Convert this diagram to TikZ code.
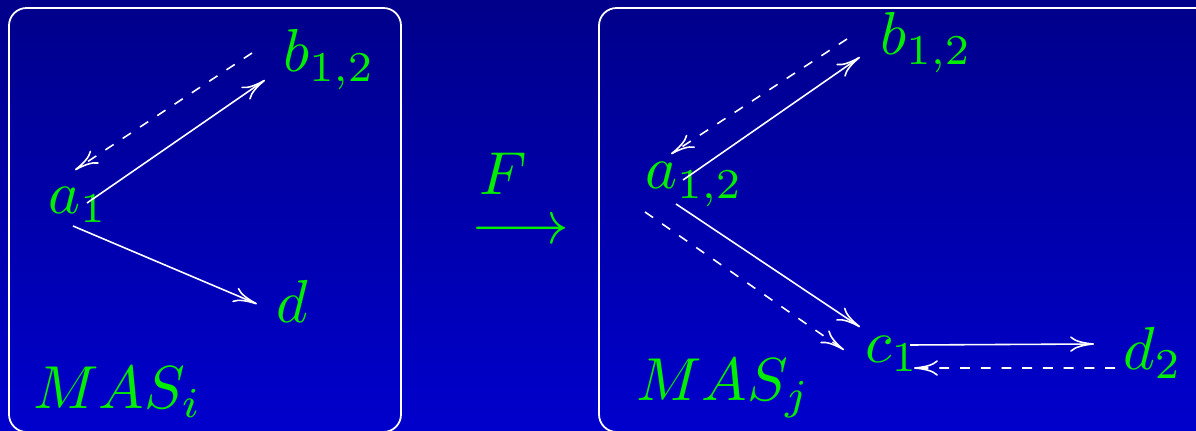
\documentclass[tikz,border=0pt]{standalone}
\usepackage{tikz}
\usetikzlibrary{arrows.meta, positioning}
\definecolor{bg-top}{HTML}{00008A}
\definecolor{bg-bottom}{HTML}{0000CC}
\definecolor{agent-color}{HTML}{00EE00}
\definecolor{link-color}{HTML}{FFFFFF}
\tikzset{
  agent/.style={text=agent-color, font=\normalsize, inner sep=0pt, anchor=base west,
    scale=1.728, transform shape},
  mas-frame/.style={draw=link-color, line width=0.5pt, rounded corners=5pt},
  link/.style={-{To[length=6.8pt, width=4.4pt]}, line width=0.45pt, draw=link-color},
  reply/.style={link, dash pattern=on 2.8pt off 3.1pt}
}

\begin{document}
\begin{tikzpicture}
  \clip (0,0) rectangle (11.96,4.30);
  \shade[top color=bg-top, bottom color=bg-bottom] (0,0) rectangle (11.96,4.30);
  \draw[mas-frame] (0.09,-0.02) rectangle (4.01,4.22);
  \draw[mas-frame] (5.99,-0.02) rectangle (12.20,4.22);

  % source system
  \node[agent] (a1)   at (0.47, 2.17) {$a_1$};
  \node[agent] (b1)   at (2.82, 3.58) {$b_{1,2}$};
  \node[agent] (d1)   at (2.75, 1.08) {$d$};
  \node[agent] (masi) at (0.32, 0.22) {$MAS_i$};

  % target system
  \node[agent] (a2)   at (6.44, 2.41) {$a_{1,2}$};
  \node[agent] (b2)   at (8.79, 3.75) {$b_{1,2}$};
  \node[agent] (c2)   at (8.64, 0.68) {$c_1$};
  \node[agent] (d2)   at (11.22, 0.61) {$d_2$};
  \node[agent] (masj) at (6.35, 0.30) {$MAS_j$};

  \node[agent] (fname) at (4.78, 2.35) {$F$};
  \node[agent] (fmap)  at (4.70, 1.87) {$\longrightarrow$};

  \draw[link]  ([shift={(0.40,0.10)}]a1.base west) -- ([shift={(-0.17,-0.08)}]b1.base west);
  \draw[reply] ([shift={(-0.30,0.19)}]b1.base west) -- ([shift={(0.28,0.43)}]a1.base west);
  \draw[link]  ([shift={(0.26,-0.13)}]a1.base west) -- ([shift={(-0.18,0.18)}]d1.base west);

  \draw[link]  ([shift={(0.39,0.09)}]a2.base west) -- ([shift={(-0.19,-0.02)}]b2.base west);
  \draw[reply] ([shift={(-0.32,0.16)}]b2.base west) -- ([shift={(0.27,0.35)}]a2.base west);
  \draw[link]  ([shift={(0.32,-0.15)}]a2.base west) -- ([shift={(-0.04,0.35)}]c2.base west);
  \draw[reply] ([shift={(0.01,-0.23)}]a2.base west) -- ([shift={(-0.20,0.12)}]c2.base west);
  \draw[link]  ([shift={(0.46,0.17)}]c2.base west) -- ([shift={(-0.28,0.25)}]d2.base west);
  \draw[reply] ([shift={(-0.07,0.01)}]d2.base west) -- ([shift={(0.50,-0.06)}]c2.base west);
\end{tikzpicture}
\end{document}
